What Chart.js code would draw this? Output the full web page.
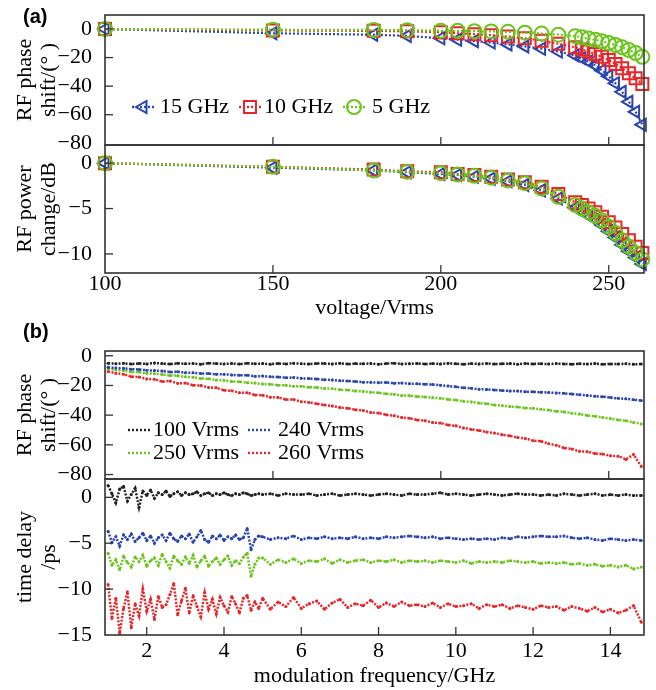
<!DOCTYPE html>
<html><head><meta charset="utf-8">
<script src="https://cdn.jsdelivr.net/npm/chart.js@4/dist/chart.umd.min.js"></script>
<style>
html,body{margin:0;padding:0;background:#fff;}
body{width:656px;height:690px;position:relative;overflow:hidden;}
canvas{position:absolute;left:0;}
</style></head><body>
<canvas id="a1" width="656" height="150" style="top:0px"></canvas>
<canvas id="a2" width="656" height="182" style="top:140px"></canvas>
<canvas id="b1" width="656" height="163" style="top:321px"></canvas>
<canvas id="b2" width="656" height="216" style="top:474px"></canvas>
<script>
// ---------- panel (a) data ----------
const voltage = [100,150,180,190,200,205,210,215,220,225,230,235,240,242,244,246,248,250,252,254,256,258,260];
const phase15 = [0,-3,-4,-4.8,-6.5,-7.5,-8.5,-9.5,-10.8,-12.2,-13.8,-15.8,-18.5,-20.5,-22.8,-25.5,-29,-33,-38,-44,-51,-58,-67];
const phase10 = [0,-1,-1.3,-1.6,-2.2,-3,-3.6,-4.3,-5.3,-6.5,-8.2,-10.3,-12.8,-14.3,-15.8,-17.5,-19.5,-21.7,-24.5,-27.5,-31,-34.5,-38.5];
const phase5  = [0,-0.5,-0.7,-0.8,-1.2,-1.3,-1.5,-1.7,-2.0,-2.6,-3.2,-4,-5,-5.8,-6.7,-7.6,-8.6,-9.8,-11.2,-12.8,-14.7,-16.8,-19.5];
const power15 = [0,-0.5,-0.8,-1.0,-1.2,-1.3,-1.5,-1.7,-2.0,-2.4,-3.0,-3.9,-4.9,-5.3,-5.8,-6.2,-6.8,-7.5,-8.2,-9.0,-9.7,-10.4,-11.1];
const power10 = [0,-0.4,-0.7,-0.9,-1.0,-1.2,-1.3,-1.5,-1.8,-2.1,-2.6,-3.4,-4.3,-4.6,-5.0,-5.4,-5.9,-6.5,-7.1,-7.8,-8.5,-9.2,-9.9];
const power5  = [0,-0.4,-0.8,-0.95,-1.1,-1.25,-1.4,-1.6,-1.9,-2.2,-2.8,-3.7,-4.6,-5.0,-5.4,-5.8,-6.3,-7.0,-7.7,-8.5,-9.2,-9.9,-10.6];
const seriesA = ['15 GHz','10 GHz','5 GHz'];
const voltTicks = [100,150,200,250];
const phaseTicksA = [0,-20,-40,-60,-80];
const powerTicks = [0,-5,-10];

// ---------- panel (b) data ----------
const freq = [1.0,1.2,1.4,1.6,1.8,2.0,2.2,2.4,2.6,2.8,3.0,3.2,3.4,3.6,3.8,4.0,4.2,4.4,4.6,4.8,
  5.0,5.2,5.4,5.6,5.8,6.0,6.2,6.4,6.6,6.8,7.0,7.2,7.4,7.6,7.8,8.0,8.2,8.4,8.6,8.8,
  9.0,9.2,9.4,9.6,9.8,10.0,10.2,10.4,10.6,10.8,11.0,11.2,11.4,11.6,11.8,12.0,12.2,12.4,12.6,12.8,
  13.0,13.2,13.4,13.6,13.8,14.0,14.2,14.4,14.6,14.8];
const phase100 = [-5.0,-5.4,-5.1,-5.6,-5.2,-5.5,-4.9,-5.3,-5.6,-5.1,
  -5.4,-5.2,-5.7,-5.0,-5.3,-5.5,-5.2,-5.6,-5.1,-5.4,
  -5.3,-5.7,-5.2,-5.5,-5.0,-5.4,-5.6,-5.2,-5.3,-5.5,
  -5.1,-5.6,-5.3,-5.4,-5.2,-5.7,-5.3,-5.0,-5.5,-5.4,
  -5.2,-5.6,-5.3,-5.5,-5.1,-5.4,-5.7,-5.3,-5.5,-5.2,
  -5.6,-5.4,-5.3,-5.7,-5.2,-5.5,-5.4,-5.6,-5.3,-5.5,
  -5.7,-5.4,-5.6,-5.3,-5.8,-5.5,-5.6,-5.4,-5.7,-5.6];
const phase240 = [-7.8,-8.3,-8.4,-9.1,-9.2,-9.8,-10.0,-10.3,-10.9,-10.8,
  -11.4,-11.5,-11.9,-12.0,-12.5,-12.4,-12.9,-13.2,-13.1,-13.8,
  -13.7,-14.2,-14.3,-14.8,-14.7,-15.2,-15.4,-15.6,-16.2,-16.3,
  -16.8,-17.0,-17.3,-17.8,-17.9,-18.1,-18.0,-18.5,-18.4,-18.8,
  -18.9,-19.2,-19.4,-19.8,-20.4,-20.9,-21.6,-21.9,-22.5,-22.7,
  -23.1,-23.4,-23.7,-23.8,-24.2,-24.3,-24.6,-24.7,-25.1,-25.3,
  -25.8,-26.2,-26.7,-27.2,-27.6,-28.1,-28.7,-29.0,-29.6,-30.2];
const phase250 = [-8.8,-9.6,-10.0,-10.9,-11.0,-11.8,-12.1,-12.6,-13.3,-13.4,
  -14.2,-14.5,-15.3,-15.5,-16.3,-16.5,-17.4,-17.5,-18.2,-18.4,
  -19.1,-19.2,-19.8,-19.9,-20.6,-20.6,-21.2,-21.4,-22.0,-22.2,
  -22.9,-23.1,-23.7,-24.0,-24.6,-25.0,-25.6,-26.0,-26.7,-26.9,
  -27.5,-27.7,-28.3,-28.6,-29.4,-29.8,-30.7,-31.1,-31.9,-32.3,
  -33.2,-33.6,-34.2,-34.5,-35.2,-35.4,-36.1,-36.6,-37.4,-37.8,
  -38.7,-39.3,-40.2,-40.7,-41.6,-42.3,-43.2,-43.8,-44.9,-45.9];
const phase260 = [-10.6,-11.8,-12.4,-14.1,-14.3,-15.6,-15.9,-17.4,-17.0,-18.6,
  -18.4,-19.8,-20.1,-21.3,-21.6,-23.2,-23.6,-24.9,-25.0,-26.4,
  -26.6,-27.9,-28.1,-29.4,-29.5,-30.9,-31.4,-32.3,-33.2,-33.8,
  -34.9,-35.3,-36.4,-36.8,-38.2,-38.6,-39.8,-40.4,-41.6,-42.1,
  -43.2,-43.7,-45.0,-45.3,-46.6,-47.2,-48.6,-49.6,-50.3,-51.4,
  -52.1,-53.2,-53.9,-55.1,-55.7,-57.2,-57.5,-59.2,-60.3,-62.1,
  -62.8,-64.3,-64.6,-65.8,-66.2,-67.4,-67.6,-69.8,-66.5,-74.5];
// time delay: 0.1 GHz steps up to 4.9 GHz, then 0.2 GHz steps
const freqDelay = [1.0,1.1,1.2,1.3,1.4,1.5,1.6,1.7,1.8,1.9,2.0,2.1,2.2,2.3,2.4,2.5,2.6,2.7,2.8,2.9,
  3.0,3.1,3.2,3.3,3.4,3.5,3.6,3.7,3.8,3.9,4.0,4.1,4.2,4.3,4.4,4.5,4.6,4.7,4.8,4.9,
  5.0,5.2,5.4,5.6,5.8,6.0,6.2,6.4,6.6,6.8,7.0,7.2,7.4,7.6,7.8,8.0,8.2,8.4,8.6,8.8,
  9.0,9.2,9.4,9.6,9.8,10.0,10.2,10.4,10.6,10.8,11.0,11.2,11.4,11.6,11.8,12.0,12.2,12.4,12.6,12.8,
  13.0,13.2,13.4,13.6,13.8,14.0,14.2,14.4,14.6,14.8];
const delay100 = [1.3,0.4,-0.6,0.9,1.2,-0.4,0.3,1.0,-1.1,0.7,
  0.2,0.8,-0.1,0.5,0.3,0.7,0.1,0.4,0.6,0.2,
  0.5,0.3,0.4,0.6,0.2,0.4,0.5,0.2,0.4,0.3,
  0.5,0.3,0.2,0.4,0.3,0.5,0.4,0.2,0.3,0.4,
  0.3,0.4,0.2,0.4,0.3,0.3,0.4,0.2,0.3,0.4,
  0.2,0.3,0.4,0.3,0.2,0.3,0.4,0.3,0.2,0.4,
  0.3,0.3,0.4,0.5,0.3,0.4,0.3,0.2,0.3,0.4,
  0.3,0.2,0.3,0.4,0.3,0.3,0.2,0.3,0.2,0.4,
  0.3,0.2,0.3,0.4,0.2,0.3,0.2,0.3,0.2,0.2];
const delay240 = [-3.7,-4.9,-4.3,-5.3,-4.1,-4.6,-4.0,-4.8,-4.4,-3.9,
  -4.7,-4.2,-5.0,-4.4,-4.1,-4.7,-3.9,-4.5,-4.8,-4.2,
  -4.5,-4.0,-4.9,-4.3,-3.6,-4.6,-4.9,-4.2,-4.5,-4.1,
  -4.7,-4.3,-4.5,-4.1,-4.6,-4.4,-3.4,-5.7,-4.6,-4.2,
  -4.3,-4.6,-4.4,-4.5,-4.2,-4.6,-4.4,-4.5,-4.3,-4.5,
  -4.4,-4.5,-4.3,-4.5,-4.4,-4.5,-4.3,-4.4,-4.3,-4.2,
  -4.3,-4.4,-4.3,-4.5,-4.4,-4.5,-4.6,-4.5,-4.6,-4.5,
  -4.6,-4.4,-4.5,-4.3,-4.4,-4.3,-4.2,-4.3,-4.3,-4.2,
  -4.4,-4.5,-4.4,-4.6,-4.7,-4.5,-4.6,-4.7,-4.6,-4.7];
const delay250 = [-6.1,-7.4,-6.8,-7.9,-6.4,-7.1,-7.6,-6.5,-7.0,-6.3,
  -7.5,-6.9,-6.6,-7.4,-6.2,-7.0,-7.7,-6.4,-6.9,-7.3,
  -6.5,-7.2,-6.3,-7.6,-6.9,-6.4,-7.5,-7.0,-6.6,-7.3,
  -6.8,-6.4,-7.4,-6.9,-7.2,-6.5,-6.1,-8.6,-7.3,-6.6,
  -6.6,-7.3,-6.8,-7.1,-6.7,-7.2,-6.9,-7.0,-6.7,-7.2,
  -6.8,-7.1,-6.9,-6.8,-7.1,-6.9,-7.0,-6.8,-7.1,-6.9,
  -7.0,-6.9,-7.1,-6.9,-7.0,-7.1,-6.9,-7.2,-7.0,-7.1,
  -7.0,-7.1,-6.9,-7.0,-7.1,-7.0,-7.2,-7.1,-7.2,-7.1,
  -7.3,-7.2,-7.4,-7.3,-7.5,-7.4,-7.6,-7.4,-7.8,-7.6];
const delay260 = [-9.5,-13.2,-11.0,-14.8,-12.1,-10.3,-14.2,-11.6,-12.9,-10.0,
  -12.4,-11.1,-13.3,-10.8,-12.0,-11.7,-10.6,-9.4,-12.8,-11.3,
  -9.9,-12.6,-10.7,-11.9,-13.0,-10.4,-12.2,-11.1,-12.7,-10.9,
  -11.8,-12.5,-10.8,-11.6,-12.6,-11.0,-10.7,-12.3,-11.4,-12.1,
  -11.0,-12.2,-11.4,-11.9,-10.9,-12.1,-11.6,-11.3,-12.2,-11.5,
  -11.1,-12.0,-11.6,-11.8,-11.2,-12.0,-11.5,-11.9,-11.4,-11.8,
  -11.7,-11.9,-11.5,-12.0,-11.6,-11.9,-11.8,-11.6,-12.1,-11.7,
  -11.9,-11.7,-12.1,-11.8,-12.0,-12.2,-11.8,-12.0,-11.9,-12.3,
  -11.9,-12.1,-12.4,-12.0,-12.5,-12.2,-12.6,-12.3,-11.8,-13.6];
const seriesB = ['100 Vrms','240 Vrms','250 Vrms','260 Vrms'];
const freqTicks = [2,4,6,8,10,12,14];
const phaseTicksB = [0,-20,-40,-60,-80];
const delayTicks = [0,-5,-10,-15];

// ---------- styling ----------
const BLUE = '#2a44ae', RED = '#e8262a', GREEN = '#6cc51c', BLACK = '#222222';
const SERIF = '"Liberation Serif", "Times New Roman", serif';
Chart.defaults.font.family = SERIF;
Chart.defaults.color = '#000';

const pts = (xs, ys) => xs.map((x, i) => ({x: x, y: ys[i]}));
const fmt = v => String(v).replace('-', '\u2212');

function makeDecor(cfg) {
  return {
    id: 'decor',
    afterDatasetsDraw(chart) {
      const ctx = chart.ctx, a = chart.chartArea;
      ctx.save();
      ctx.setLineDash([]);
      ctx.strokeStyle = '#333';
      ctx.lineWidth = 1.6;
      ctx.strokeRect(a.left, a.top, a.right - a.left, a.bottom - a.top);
      ctx.lineWidth = 1.3;
      if (cfg.xTicks) {
        const s = chart.scales[cfg.xTicks.id];
        cfg.xTicks.values.forEach(v => {
          const px = s.getPixelForValue(v);
          ctx.beginPath(); ctx.moveTo(px, a.bottom); ctx.lineTo(px, a.bottom - 8); ctx.stroke();
        });
      }
      if (cfg.yTicks) {
        const s = chart.scales.y;
        cfg.yTicks.forEach(v => {
          const py = s.getPixelForValue(v);
          if (py < a.top + 3 || py > a.bottom - 3) return;
          ctx.beginPath(); ctx.moveTo(a.left, py); ctx.lineTo(a.left + 8, py); ctx.stroke();
        });
      }
      if (cfg.panel) {
        ctx.font = 'bold 20px "Liberation Sans", Arial, sans-serif';
        ctx.fillStyle = '#000';
        ctx.textBaseline = 'middle';
        ctx.fillText(cfg.panel.text, cfg.panel.x, cfg.panel.y);
      }
      if (cfg.legend) {
        cfg.legend.forEach(it => {
          const ds = chart.data.datasets.find(d => d.label === it.label);
          ctx.save();
          ctx.strokeStyle = ds.borderColor;
          ctx.lineWidth = it.lw || 2.4;
          ctx.setLineDash([2, 2]);
          ctx.beginPath(); ctx.moveTo(it.x1, it.y); ctx.lineTo(it.x2, it.y); ctx.stroke();
          ctx.setLineDash([]);
          if (it.marker) {
            ctx.fillStyle = 'rgba(0,0,0,0)';
            ctx.strokeStyle = ds.pointBorderColor;
            ctx.lineWidth = ds.pointBorderWidth;
            Chart.helpers.drawPoint(ctx, {pointStyle: ds.pointStyle, radius: ds.pointRadius,
              rotation: ds.pointRotation || 0, borderWidth: ds.pointBorderWidth}, (it.x1 + it.x2) / 2, it.y);
          }
          ctx.restore();
          ctx.font = '22px ' + SERIF;
          ctx.fillStyle = '#000';
          ctx.textBaseline = 'middle';
          ctx.fillText(it.label, it.tx, it.y);
        });
      }
      ctx.restore();
    }
  };
}

function noPad(s) { s.paddingTop = 0; s.paddingBottom = 0; s.paddingLeft = 0; s.paddingRight = 0; }

function yScale(min, max, ticks, title, titlePad) {
  return {
    min: min, max: max,
    afterFit: s => { s.width = 105; noPad(s); },
    afterBuildTicks: s => { s.ticks = ticks.map(v => ({value: v})); },
    grid: {display: false}, border: {display: false},
    ticks: {padding: 5, font: {size: 22}, color: '#000', callback: fmt},
    title: {display: true, text: title, color: '#000', font: {size: 22, lineHeight: 1.1}, padding: {top: titlePad, bottom: 0}}
  };
}

function xScale(min, max, ticks, title, h, tickPad, titlePadBottom) {
  return {
    type: 'linear', min: min, max: max,
    afterFit: s => { s.height = h; noPad(s); },
    afterBuildTicks: s => { s.ticks = ticks.map(v => ({value: v})); },
    grid: {display: false}, border: {display: false},
    ticks: {padding: tickPad, font: {size: 22, lineHeight: 1}, color: '#000', maxRotation: 0, autoSkip: false, callback: fmt},
    title: {display: true, text: title, color: '#000', font: {size: 22, lineHeight: 1.1}, padding: {top: 0, bottom: titlePadBottom}}
  };
}
function hiddenX(min, max, extra) {
  return Object.assign({type: 'linear', min: min, max: max, display: false, afterFit: s => { noPad(s); }}, extra || {});
}

function dsA(label, xs, ys, color, style, radius, rot) {
  return {label: label, data: pts(xs, ys), borderColor: color, borderWidth: 2.2, borderDash: [2, 2],
    pointStyle: style, pointRadius: radius, pointRotation: rot, pointBorderWidth: 2,
    pointBorderColor: color, pointBackgroundColor: 'rgba(0,0,0,0)', clip: false, tension: 0};
}
function dsB(label, xs, ys, color) {
  return {label: label, data: pts(xs, ys), borderColor: color, borderWidth: 2.5, borderDash: [2, 1.5],
    pointRadius: 1.5, pointBorderWidth: 0, pointBackgroundColor: color, tension: 0};
}

const common = {responsive: false, animation: false, devicePixelRatio: 1,
  plugins: {legend: {display: false}, tooltip: {enabled: false}}, events: []};

// place the plot area exactly where the figure has it (canvas coordinates)
function fitArea(c, t) {
  for (let k = 0; k < 3; k++) {
    const a = c.chartArea, p = c.config.options.layout.padding;
    const np = {left: p.left + (t.left - a.left), right: p.right + (a.right - t.right),
                top: p.top + (t.top - a.top), bottom: p.bottom + (a.bottom - t.bottom)};
    c.config.options.layout.padding = np;
    c.update();
  }
}

// ---------- (a) top: RF phase shift vs voltage ----------
const cA1 = new Chart(document.getElementById('a1'), {
  type: 'line',
  data: {datasets: [
    dsA(seriesA[2], voltage, phase5, GREEN, 'circle', 7, 0),
    dsA(seriesA[1], voltage, phase10, RED, 'rect', 8.5, 0),
    dsA(seriesA[0], voltage, phase15, BLUE, 'triangle', 7, -90)
  ]},
  options: Object.assign({}, common, {
    layout: {autoPadding: false, padding: {left: 0, right: 12, top: 15, bottom: 5}},
    scales: {
      x: hiddenX(100, 260.5),
      y: yScale(-81.2, 9.8, phaseTicksA, ['RF phase', 'shift/(\u00b0 )'], 13.4)
    }
  }),
  plugins: [makeDecor({
    xTicks: {id: 'x', values: [150, 200, 250]}, yTicks: phaseTicksA,
    panel: {text: '(a)', x: 23, y: 17},
    legend: [
      {label: seriesA[0], x1: 132, x2: 154, y: 107, tx: 160, marker: true},
      {label: seriesA[1], x1: 239, x2: 261, y: 107, tx: 264, marker: true},
      {label: seriesA[2], x1: 343, x2: 365, y: 107, tx: 372, marker: true}
    ]
  })]
});
fitArea(cA1, {left: 105, right: 644, top: 15, bottom: 145});

// ---------- (a) bottom: RF power change vs voltage ----------
const cA2 = new Chart(document.getElementById('a2'), {
  type: 'line',
  data: {datasets: [
    dsA(seriesA[2], voltage, power5, GREEN, 'circle', 7, 0),
    dsA(seriesA[1], voltage, power10, RED, 'rect', 8.5, 0),
    dsA(seriesA[0], voltage, power15, BLUE, 'triangle', 7, -90)
  ]},
  options: Object.assign({}, common, {
    layout: {autoPadding: false, padding: {left: 0, right: 12, top: 5, bottom: 0}},
    scales: {
      x: xScale(100, 260.5, voltTicks, 'voltage/Vrms', 49, -8, 2),
      y: yScale(-12.1, 2, powerTicks, ['RF power', 'change/dB'], 13.4)
    }
  }),
  plugins: [makeDecor({xTicks: {id: 'x', values: [150, 200, 250]}, yTicks: powerTicks})]
});
fitArea(cA2, {left: 105, right: 644, top: 5, bottom: 133});

// ---------- (b) top: RF phase shift vs modulation frequency ----------
const cB1 = new Chart(document.getElementById('b1'), {
  type: 'line',
  data: {datasets: [
    dsB(seriesB[0], freq, phase100, BLACK),
    dsB(seriesB[1], freq, phase240, BLUE),
    dsB(seriesB[2], freq, phase250, GREEN),
    dsB(seriesB[3], freq, phase260, RED)
  ]},
  options: Object.assign({}, common, {
    layout: {autoPadding: false, padding: {left: 0, right: 12, top: 30, bottom: 5}},
    scales: {
      x: hiddenX(0.92, 14.87),
      xv: hiddenX(100, 260.5, {axis: 'x', position: 'bottom'}),
      y: yScale(-83, 3.2, phaseTicksB, ['RF phase', 'shift/(\u00b0 )'], 13.4)
    }
  }),
  plugins: [makeDecor({
    xTicks: {id: 'xv', values: [150, 200, 250]}, yTicks: phaseTicksB,
    panel: {text: '(b)', x: 23, y: 11},
    legend: [
      {label: seriesB[0], x1: 128, x2: 150, y: 109, tx: 153},
      {label: seriesB[1], x1: 248, x2: 270, y: 109, tx: 278},
      {label: seriesB[2], x1: 128, x2: 150, y: 132, tx: 153},
      {label: seriesB[3], x1: 248, x2: 270, y: 132, tx: 278}
    ]
  })]
});
fitArea(cB1, {left: 105, right: 644, top: 30, bottom: 158});

// ---------- (b) bottom: time delay vs modulation frequency ----------
const cB2 = new Chart(document.getElementById('b2'), {
  type: 'line',
  data: {datasets: [
    dsB(seriesB[0], freqDelay, delay100, BLACK),
    dsB(seriesB[1], freqDelay, delay240, BLUE),
    dsB(seriesB[2], freqDelay, delay250, GREEN),
    dsB(seriesB[3], freqDelay, delay260, RED)
  ]},
  options: Object.assign({}, common, {
    layout: {autoPadding: false, padding: {left: 0, right: 12, top: 5, bottom: 0}},
    scales: {
      x: xScale(0.92, 14.87, freqTicks, 'modulation frequency/GHz', 55, -3, 2),
      y: yScale(-15, 2, delayTicks, ['time delay', '/ps'], 13.4)
    }
  }),
  plugins: [makeDecor({xTicks: {id: 'x', values: freqTicks}, yTicks: delayTicks})]
});
fitArea(cB2, {left: 105, right: 644, top: 5, bottom: 161});
</script>
</body></html>
